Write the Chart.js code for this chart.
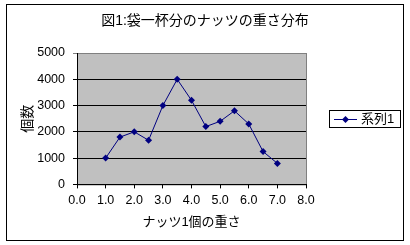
<!DOCTYPE html>
<html>
<head>
<meta charset="utf-8">
<script src="https://cdn.jsdelivr.net/npm/chart.js@4"></script>
<style>
  html, body { margin: 0; padding: 0; background: #fff; }
  #wrap { width: 410px; height: 245px; position: relative; }
</style>
</head>
<body>
<div id="wrap"><canvas id="chart" width="410" height="245"></canvas></div>
<script>
// podaci očitani sa slike
const weights = [1.0, 1.5, 2.0, 2.5, 3.0, 3.5, 4.0, 4.5, 5.0, 5.5, 6.0, 6.5, 7.0];
const counts = [1000, 1800, 2000, 1680, 3000, 4000, 3200, 2200, 2400, 2800, 2300, 1250, 800];
const seriesName = "系列1";
const titleText = "図1:袋一杯分のナッツの重さ分布";
const xTitle = "ナッツ1個の重さ";
const yTitle = "個数";

const FONT = "'Liberation Sans', 'Noto Sans CJK JP', sans-serif";
const NAVY = "#000080";

// pozadina grafa, okvir, naslov i legenda
const excelLook = {
  id: "excelLook",
  beforeDraw(chart) {
    const ctx = chart.ctx;
    const a = chart.chartArea;
    ctx.save();
    ctx.fillStyle = "#fff";
    ctx.fillRect(0, 0, chart.width, chart.height);
    ctx.strokeStyle = "#000";
    ctx.lineWidth = 1;
    ctx.strokeRect(6.5, 4.5, 397, 236);
    ctx.fillStyle = "#c0c0c0";
    ctx.fillRect(a.left, a.top, a.right - a.left, a.bottom - a.top);
    ctx.strokeStyle = "#808080";
    ctx.strokeRect(a.left + 0.5, a.top + 0.5, a.right - a.left, a.bottom - a.top);
    ctx.restore();
  },
  afterDraw(chart) {
    const ctx = chart.ctx;
    ctx.save();
    // naslov
    ctx.fillStyle = "#000";
    ctx.font = "14px " + FONT;
    ctx.textAlign = "center";
    ctx.textBaseline = "middle";
    ctx.fillText(titleText, 205, 21);
    // legenda
    ctx.strokeStyle = "#000";
    ctx.lineWidth = 1;
    ctx.strokeRect(329.5, 110.5, 71, 17);
    ctx.strokeStyle = NAVY;
    ctx.beginPath();
    ctx.moveTo(334, 119.5);
    ctx.lineTo(357, 119.5);
    ctx.stroke();
    ctx.fillStyle = NAVY;
    ctx.beginPath();
    ctx.moveTo(345.5, 116);
    ctx.lineTo(349, 119.5);
    ctx.lineTo(345.5, 123);
    ctx.lineTo(342, 119.5);
    ctx.closePath();
    ctx.fill();
    ctx.fillStyle = "#000";
    ctx.font = "13px " + FONT;
    ctx.textAlign = "left";
    ctx.fillText(seriesName, 361, 119.5);
    ctx.restore();
  }
};

const ctx = document.getElementById("chart").getContext("2d");
new Chart(ctx, {
  type: "scatter",
  data: {
    datasets: [{
      label: seriesName,
      data: weights.map((w, i) => ({ x: w, y: counts[i] })),
      showLine: true,
      borderColor: NAVY,
      borderWidth: 1,
      backgroundColor: NAVY,
      pointStyle: "rectRot",
      pointRadius: 3.5,
      pointBorderWidth: 0,
      tension: 0
    }]
  },
  options: {
    responsive: false,
    animation: false,
    events: [],
    layout: { padding: { left: 16, right: 104, top: 53, bottom: 15 } },
    plugins: {
      legend: { display: false },
      tooltip: { enabled: false },
      title: { display: false }
    },
    scales: {
      x: {
        type: "linear",
        min: 0,
        max: 8,
        ticks: {
          stepSize: 1,
          color: "#000",
          font: { family: FONT, size: 12.5 },
          padding: 5,
          maxRotation: 0,
          callback: v => v.toFixed(1)
        },
        grid: { drawOnChartArea: false, color: "#000", tickLength: 4 },
        border: { color: "#000" },
        title: {
          display: true,
          text: xTitle,
          color: "#000",
          font: { family: FONT, size: 13 },
          padding: { top: 1, bottom: 0 }
        }
      },
      y: {
        min: 0,
        max: 5000,
        afterFit: scale => { scale.width = 61; },
        ticks: {
          stepSize: 1000,
          color: "#000",
          font: { family: FONT, size: 12.5 },
          padding: 8,
          callback: v => String(v)
        },
        grid: {
          color: c => (c.tick && c.tick.value === 5000 ? "#808080" : "#000"),
          tickLength: 4
        },
        border: { color: "#000" },
        title: {
          display: true,
          text: yTitle,
          color: "#000",
          font: { family: FONT, size: 14 },
          padding: { top: 4, bottom: 0 }
        }
      }
    }
  },
  plugins: [excelLook]
});
</script>
</body>
</html>
